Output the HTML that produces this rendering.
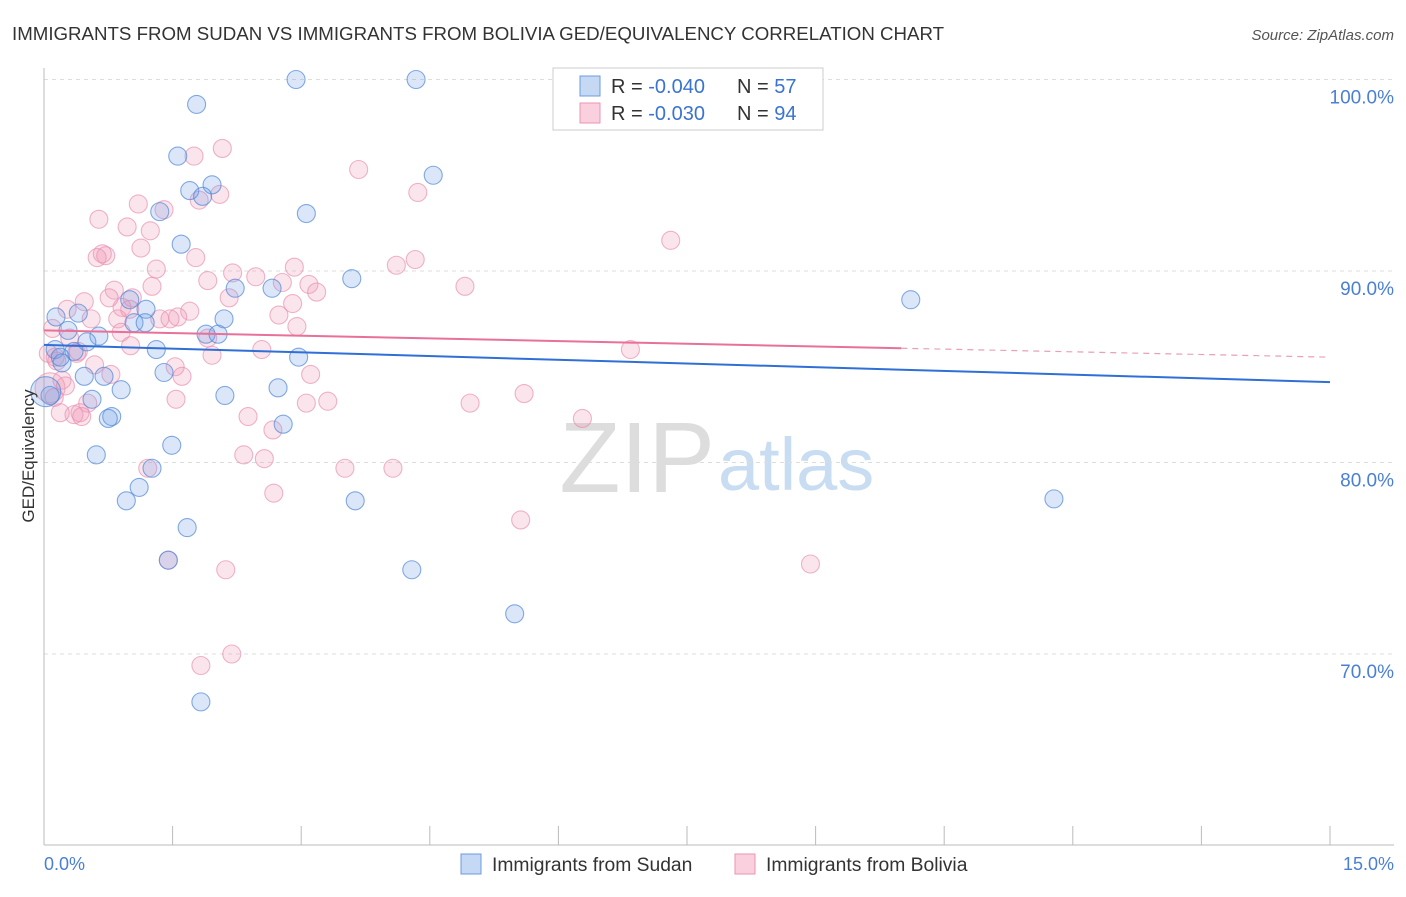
<!DOCTYPE html>
<html><head><meta charset="utf-8"><style>
body{margin:0;background:#fff;font-family:"Liberation Sans",sans-serif;}
svg text{font-family:"Liberation Sans",sans-serif;}
</style></head><body>
<svg id="chart" width="1406" height="892">
<text x="12" y="40" font-size="18.7" fill="#333">IMMIGRANTS FROM SUDAN VS IMMIGRANTS FROM BOLIVIA GED/EQUIVALENCY CORRELATION CHART</text>
<text x="1394" y="40" font-size="15" fill="#555" font-style="italic" text-anchor="end">Source: ZipAtlas.com</text>
<text x="715" y="492" font-size="100" fill="#ddd" text-anchor="end" font-family="Liberation Serif">ZIP</text>
<text x="718" y="490" font-size="74" fill="#c8dcf2">atlas</text>
<g id="grid"></g><g id="pts"></g><g id="lines"></g>
<text transform="translate(34,456) rotate(-90)" font-size="17" fill="#333" text-anchor="middle">GED/Equivalency</text>
<text x="44" y="870" font-size="18" fill="#4a7fd4">0.0%</text>
<text x="1394" y="870" font-size="18" fill="#4a7fd4" text-anchor="end">15.0%</text>
<g><rect x="461" y="854" width="20" height="20" fill="#c5d9f5" stroke="#6b9be0"/><text x="492" y="871" font-size="19.3" fill="#333">Immigrants from Sudan</text></g>
<g><rect x="735" y="854" width="20" height="20" fill="#fbd0de" stroke="#e896b4"/><text x="766" y="871" font-size="19.3" fill="#333">Immigrants from Bolivia</text></g>
<g>
<rect x="553" y="68" width="270" height="62" fill="#fff" stroke="#ccc"/>
<rect x="580" y="76" width="20" height="20" fill="#c5d9f5" stroke="#6b9be0"/>
<rect x="580" y="103" width="20" height="20" fill="#fbd0de" stroke="#e896b4"/>
<text x="611" y="93" font-size="20" fill="#333">R = <tspan fill="#3a74d0">-0.040</tspan></text>
<text x="737" y="93" font-size="20" fill="#333">N = <tspan fill="#3a74d0">57</tspan></text>
<text x="611" y="120" font-size="20" fill="#333">R = <tspan fill="#3a74d0">-0.030</tspan></text>
<text x="737" y="120" font-size="20" fill="#333">N = <tspan fill="#3a74d0">94</tspan></text>
</g>
</svg>
<script>
const yTicks=[100,90,80,70];
const yTickLabels=["100.0%","90.0%","80.0%","70.0%"];
const xTicks=[0,1.5,3,4.5,6,7.5,9,10.5,12,13.5,15];
const sudanX=[2.94,4.34,1.78,1.56,4.54,1.70,1.96,1.85,1.35,3.06,1.60,3.59,2.66,2.23,10.11,1.19,1.00,2.10,1.05,1.18,0.14,0.40,0.28,0.64,0.50,1.89,2.03,1.31,0.13,0.35,0.21,2.97,1.40,0.47,0.70,0.90,2.73,2.11,0.56,0.79,0.75,2.79,1.49,0.61,1.26,1.11,0.96,3.63,1.67,11.78,4.29,1.45,5.49,1.83,0.07,0.19,0.02];
const sudanY=[100,100,98.7,96.0,95.0,94.2,94.5,93.9,93.1,93.0,91.4,89.6,89.1,89.1,88.5,88.0,88.5,87.5,87.3,87.3,87.6,87.8,86.9,86.6,86.3,86.7,86.7,85.9,85.9,85.8,85.2,85.5,84.7,84.5,84.5,83.8,83.9,83.5,83.3,82.4,82.3,82.0,80.9,80.4,79.7,78.7,78.0,78.0,76.6,78.1,74.4,74.9,72.1,67.5,83.5,85.5,83.7];
const boliviaX=[6.47,2.08,1.75,3.67,4.36,2.05,1.81,1.10,1.40,0.64,0.97,1.24,0.68,1.13,0.62,0.72,1.77,7.31,4.33,4.11,1.31,2.92,2.20,2.47,1.91,2.78,3.09,1.26,4.91,3.18,0.82,0.76,1.03,0.47,0.27,0.91,1.00,2.16,2.90,2.74,1.35,1.70,1.56,1.47,0.55,0.86,2.95,0.90,1.91,1.01,2.54,6.84,0.38,0.13,1.96,1.53,1.61,0.78,3.11,0.59,0.21,1.54,3.31,4.97,5.60,0.51,0.42,0.35,0.44,0.19,3.06,2.38,6.28,2.67,2.33,2.57,3.51,4.07,1.21,2.68,5.56,1.45,8.94,2.12,2.19,1.83,0.07,0.10,0.15,0.30,0.25,0.12,0.05,0.40];
const boliviaY=[97.9,96.4,96.0,95.3,94.1,94.0,93.7,93.5,93.2,92.7,92.3,92.1,90.9,91.2,90.7,90.8,90.7,91.6,90.6,90.3,90.1,90.2,89.9,89.7,89.5,89.4,89.3,89.2,89.2,88.9,89.0,88.6,88.6,88.4,88.0,88.1,88.0,88.6,88.3,87.7,87.5,87.9,87.6,87.5,87.5,87.5,87.1,86.8,86.5,86.1,85.9,85.9,85.7,85.5,85.6,85.0,84.5,84.6,84.6,85.1,84.3,83.3,83.2,83.1,83.6,83.1,82.6,82.5,82.4,82.6,83.1,82.4,82.3,81.7,80.4,80.2,79.7,79.7,79.7,78.4,77.0,74.9,74.7,74.4,70.0,69.4,83.9,87.0,85.3,86.5,84.0,83.4,85.7,85.8];
const sudanTrend=[86.14,84.2];
const boliviaTrend=[86.9,85.5];
const NS="http://www.w3.org/2000/svg";
const X0=44,X1=1330,Y100=79.5,PX=19.15;
function sx(v){return X0+(v/15)*(X1-X0);}
function sy(v){return Y100+(100-v)*PX;}
function mk(tag,attrs,parent){const e=document.createElementNS(NS,tag);for(const k in attrs)e.setAttribute(k,attrs[k]);parent.appendChild(e);return e;}
const grid=document.getElementById('grid');
yTicks.forEach((t,i)=>{
 const l=mk('line',{x1:X0,x2:1394,y1:sy(t),y2:sy(t),stroke:'#ddd','stroke-dasharray':'4,4'},grid);
 
 
 const tx=mk('text',{x:1394,y:sy(t)+24,'font-size':19,fill:'#4a7fd4','text-anchor':'end'},grid);
 tx.textContent=yTickLabels[i];
 
 
});
const ax=mk('line',{x1:X0,x2:X0,y1:68,y2:845,stroke:'#bbb'},grid);


const bx=mk('line',{x1:X0,x2:1394,y1:845,y2:845,stroke:'#bbb'},grid);


xTicks.forEach(t=>{
 const l=mk('line',{x1:sx(t),x2:sx(t),y1:826,y2:845,stroke:'#bbb'},grid);
 
 
});
const pts=document.getElementById('pts');
function drawSeries(xs,ys,fill,stroke,name){
 xs.forEach((x,i)=>{
  const big=(i===xs.length-1&&name==='sudan-point')||(i===86&&name==='bolivia-point');
  const c=mk('circle',{cx:sx(x),cy:sy(ys[i]),r:big?15:9,fill:fill,stroke:stroke,'stroke-width':1.1},pts);
  
  
 });
}
drawSeries(boliviaX,boliviaY,'rgba(240,150,180,0.25)','rgba(232,140,175,0.65)','bolivia-point');
drawSeries(sudanX,sudanY,'rgba(110,160,230,0.25)','rgba(80,135,215,0.7)','sudan-point');
const lines=document.getElementById('lines');
const b=mk('line',{x1:sx(0),y1:sy(sudanTrend[0]),x2:sx(15),y2:sy(sudanTrend[1]),stroke:'#2f6fd6','stroke-width':2},lines);


const pm=boliviaTrend[0]+(boliviaTrend[1]-boliviaTrend[0])*(10/15);
const p=mk('line',{x1:sx(0),y1:sy(boliviaTrend[0]),x2:sx(10),y2:sy(pm),stroke:'#e8709a','stroke-width':2},lines);


const pd=mk('line',{x1:sx(10),y1:sy(pm),x2:sx(15),y2:sy(boliviaTrend[1]),stroke:'#e8a0b8','stroke-width':1.2,'stroke-dasharray':'6,5'},lines);


</script>
</body></html>
